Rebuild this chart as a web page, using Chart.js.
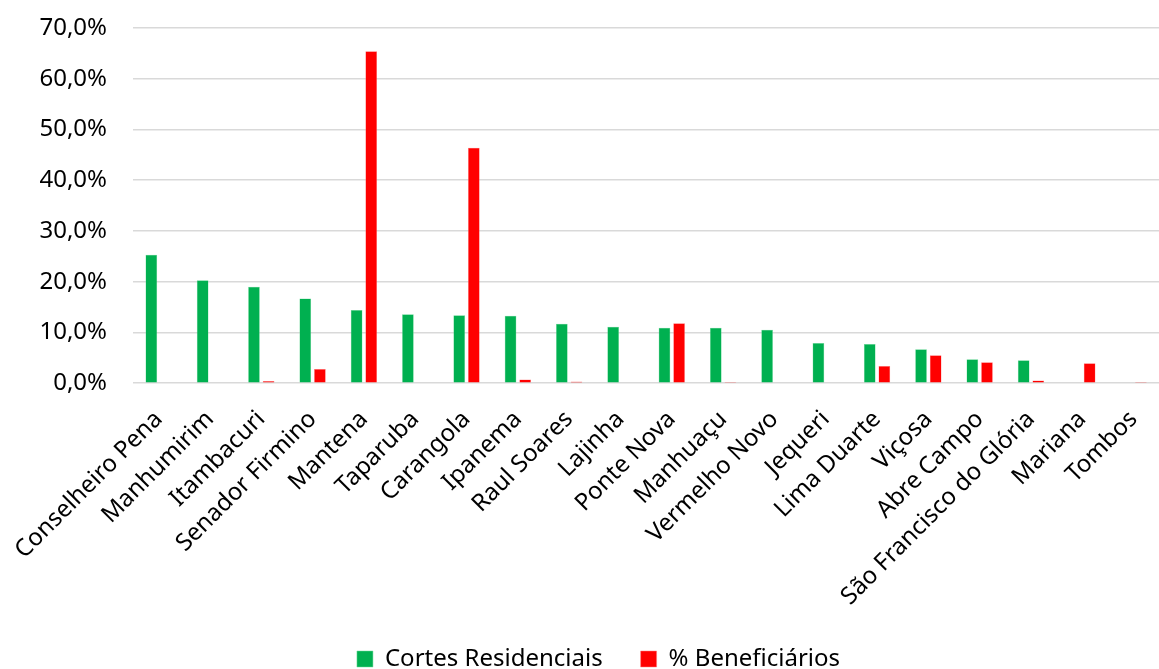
<!DOCTYPE html>
<html>
<head>
<meta charset="utf-8">
<script src="https://cdn.jsdelivr.net/npm/chart.js@4"></script>
<style>
  html, body { margin: 0; padding: 0; background: #fff; overflow: hidden; }
  #wrap { width: 1168px; height: 669px; position: relative; }
</style>
</head>
<body>
<div id="wrap"><canvas id="chart"></canvas></div>
<script>
const cities = [
  'Conselheiro Pena', 'Manhumirim', 'Itambacuri', 'Senador Firmino', 'Mantena',
  'Taparuba', 'Carangola', 'Ipanema', 'Raul Soares', 'Lajinha',
  'Ponte Nova', 'Manhuaçu', 'Vermelho Novo', 'Jequeri', 'Lima Duarte',
  'Viçosa', 'Abre Campo', 'São Francisco do Glória', 'Mariana', 'Tombos'
];
const cortes = [25.3, 20.3, 19.0, 16.7, 14.4, 13.6, 13.4, 13.3, 11.7, 11.1,
                10.9, 10.9, 10.5, 7.9, 7.7, 6.7, 4.7, 4.5, 0, 0];
const beneficiarios = [0, 0, 0.4, 2.8, 65.4, 0, 46.4, 0.7, 0.3, 0,
                       11.8, 0.2, 0, 0.1, 3.4, 5.5, 4.1, 0.5, 3.9, 0.2];
const yTicks = [0, 10, 20, 30, 40, 50, 60, 70];

const fmt = v => v.toFixed(1).replace('.', ',') + '%';

const ctx = document.getElementById('chart').getContext('2d');
new Chart(ctx, {
  type: 'bar',
  data: {
    labels: cities,
    datasets: [
      {
        label: 'Cortes Residenciais',
        data: cortes,
        backgroundColor: '#00b050',
        borderColor: '#6fdc9a',
        borderWidth: 0.5
      },
      {
        label: '% Beneficiários',
        data: beneficiarios,
        backgroundColor: '#ff0000',
        borderColor: '#ff8080',
        borderWidth: 0.5
      }
    ]
  },
  options: {
    responsive: true,
    maintainAspectRatio: false,
    animation: false,
    categoryPercentage: 0.57,
    barPercentage: 0.8,
    layout: { padding: { top: 28, left: 30, right: 1, bottom: -12 } },
    plugins: {
      tooltip: { enabled: false },
      legend: {
        position: 'bottom',
        labels: {
          color: '#000',
          font: { family: 'Noto Sans', size: 24 },
          boxWidth: 16,
          boxHeight: 16,
          padding: 38
        }
      }
    },
    scales: {
      x: {
        grid: { display: false },
        border: { display: false },
        afterFit: axis => { axis.height -= 16; },
        ticks: {
          color: '#000',
          font: { family: 'Noto Sans', size: 24 },
          minRotation: 45,
          maxRotation: 45,
          autoSkip: false,
          padding: 14
        }
      },
      y: {
        min: 0,
        max: 70,
        afterBuildTicks: axis => { axis.ticks = yTicks.map(v => ({ value: v })); },
        afterFit: axis => { axis.width = 103; axis.paddingTop = 0; },
        grid: { color: '#d9d9d9', lineWidth: 1.5, drawTicks: false },
        border: { display: false },
        ticks: {
          color: '#000',
          font: { family: 'Noto Sans', size: 24 },
          padding: 26,
          callback: v => fmt(v)
        }
      }
    }
  }
});
</script>
</body>
</html>
